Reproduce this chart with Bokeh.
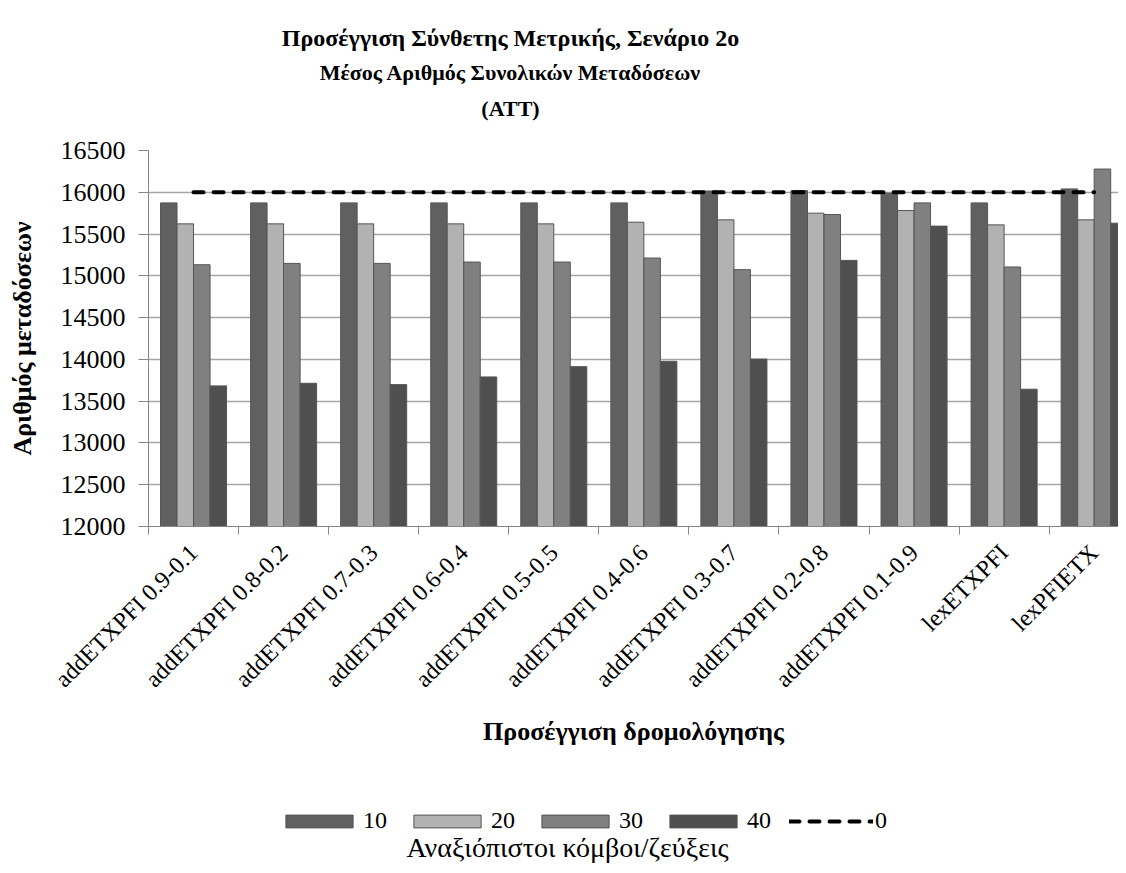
from bokeh.plotting import figure
from bokeh.layouts import column
from bokeh.models import (ColumnDataSource, Range1d, FixedTicker, Legend,
                          LegendItem, Label)
from bokeh.transform import dodge
from bokeh.embed import file_html
from bokeh.resources import INLINE
import math

categories = ["addETXPFI 0.9-0.1", "addETXPFI 0.8-0.2", "addETXPFI 0.7-0.3",
              "addETXPFI 0.6-0.4", "addETXPFI 0.5-0.5", "addETXPFI 0.4-0.6",
              "addETXPFI 0.3-0.7", "addETXPFI 0.2-0.8", "addETXPFI 0.1-0.9",
              "lexETXPFI", "lexPFIETX"]
s10 = [15873, 15873, 15873, 15873, 15873, 15873, 16015, 16020, 15988, 15873, 16040]
s20 = [15622, 15622, 15622, 15622, 15622, 15642, 15670, 15750, 15781, 15610, 15670]
s30 = [15133, 15149, 15149, 15165, 15165, 15213, 15074, 15734, 15873, 15106, 16278]
s40 = [13683, 13714, 13698, 13790, 13913, 13977, 14004, 15185, 15595, 13643, 15630]
s0 = [16000] * 11
series_names = ["10", "20", "30", "40", "0"]
y_ticks = [12000, 12500, 13000, 13500, 14000, 14500, 15000, 15500, 16000, 16500]

FONT = "Liberation Serif"
W = 1118
FRAME_W = 970
xpos = [i + 0.5 for i in range(len(categories))]
src = ColumnDataSource(dict(x=xpos, s10=s10, s20=s20, s30=s30, s40=s40, s0=s0))

# ---------------- title strip ----------------
H0 = 135
p0 = figure(width=W, height=H0, output_backend="svg", toolbar_location=None,
            x_range=Range1d(0, FRAME_W), y_range=Range1d(0, H0),
            x_axis_type=None, y_axis_type=None,
            min_border_left=0, min_border_right=0, min_border_top=0, min_border_bottom=0)
p0.outline_line_color = None
p0.xgrid.visible = False
p0.ygrid.visible = False

def tlabel(fig, text, x, y, size, bold):
    fig.add_layout(Label(x=x, y=y, text=text, text_font=FONT, text_font_size=size,
                         text_font_style="bold" if bold else "normal",
                         text_color="black", text_align="center",
                         text_baseline="middle"))

tlabel(p0, "Προσέγγιση Σύνθετης Μετρικής, Σενάριο 2ο", 362, H0 - 37, "24px", True)
tlabel(p0, "Μέσος Αριθμός Συνολικών Μεταδόσεων", 362, H0 - 72, "22px", True)
tlabel(p0, "(ATT)", 362, H0 - 108, "22px", True)

# ---------------- main chart ----------------
p = figure(frame_width=FRAME_W, frame_height=376, output_backend="svg", toolbar_location=None,
           x_range=Range1d(0, 10.77), y_range=Range1d(12000, 16500),
           min_border_left=148, min_border_right=0, min_border_top=15, min_border_bottom=225)
p.outline_line_color = None

bw = 0.1833
colors = ["#606060", "#b2b2b2", "#808080", "#4f4f4f"]
fields = ["s10", "s20", "s30", "s40"]
offsets = [-1.5 * bw, -0.5 * bw, 0.5 * bw, 1.5 * bw]
BAR_LINE = "#555555"
for f, c, o in zip(fields, colors, offsets):
    p.vbar(x=dodge("x", o), top=f, bottom=12000, width=bw, source=src,
           fill_color=c, line_color=BAR_LINE, line_width=1)
p.line(x="x", y="s0", source=src, line_color="black", line_width=4,
       line_dash="10 10", line_cap="round")

p.xaxis.ticker = FixedTicker(ticks=xpos, minor_ticks=list(range(0, 11)))
p.xaxis.major_label_overrides = {x: c for x, c in zip(xpos, categories)}
p.xaxis.major_label_orientation = math.pi / 4
p.xaxis.major_tick_out = 0
p.xaxis.major_tick_in = 0
p.xaxis.minor_tick_out = 8
p.xaxis.minor_tick_in = 0
p.xaxis.minor_tick_line_color = "#868686"
p.xaxis.axis_line_color = "#868686"
p.xaxis.major_label_standoff = 14
p.xaxis.major_label_text_font = FONT
p.xaxis.major_label_text_font_size = "24px"
p.xaxis.major_label_text_color = "black"
p.xaxis.axis_label = "Προσέγγιση δρομολόγησης"
p.xaxis.axis_label_text_font = FONT
p.xaxis.axis_label_text_font_size = "26px"
p.xaxis.axis_label_text_font_style = "bold"
p.xaxis.axis_label_text_color = "black"
p.xaxis.axis_label_standoff = 13

p.yaxis.ticker = FixedTicker(ticks=y_ticks)
p.yaxis.major_tick_out = 10
p.yaxis.major_tick_in = 0
p.yaxis.minor_tick_line_color = None
p.yaxis.major_tick_line_color = "#868686"
p.yaxis.axis_line_color = "#868686"
p.yaxis.major_label_standoff = 13
p.yaxis.major_label_text_font = FONT
p.yaxis.major_label_text_font_size = "26px"
p.yaxis.major_label_text_color = "black"
p.yaxis.axis_label = "Αριθμός μεταδόσεων"
p.yaxis.axis_label_text_font = FONT
p.yaxis.axis_label_text_font_size = "26px"
p.yaxis.axis_label_text_font_style = "bold"
p.yaxis.axis_label_text_color = "black"
p.yaxis.axis_label_standoff = 21

p.xgrid.grid_line_color = None
p.ygrid.grid_line_color = "#a6a6a6"
p.ygrid.grid_line_width = 1.5

# ---------------- legend strip ----------------
H2 = 865 - H0 - (15 + 376 + 225)
p2 = figure(width=W, height=H2, output_backend="svg", toolbar_location=None,
            x_range=Range1d(0, FRAME_W), y_range=Range1d(0, H2),
            x_axis_type=None, y_axis_type=None,
            min_border_left=0, min_border_right=0, min_border_top=0, min_border_bottom=0)
p2.outline_line_color = None
p2.xgrid.visible = False
p2.ygrid.visible = False

nan = float("nan")
leg_renderers = []
for c in colors:
    leg_renderers.append(p2.vbar(x=[nan], top=[nan], width=1, fill_color=c,
                                 line_color=BAR_LINE, line_width=1))
leg_renderers.append(p2.line(x=[nan], y=[nan], line_color="black", line_width=4,
                             line_dash="10 10", line_cap="round"))
items = [LegendItem(label=n, renderers=[r]) for n, r in zip(series_names, leg_renderers)]
legend = Legend(items=items, orientation="horizontal", location=(129, 31),
                glyph_width=84, glyph_height=16, label_standoff=2, spacing=18,
                padding=0, margin=0, border_line_alpha=0, background_fill_alpha=0,
                label_text_font=FONT, label_text_font_size="24px",
                label_text_color="black")
p2.add_layout(legend, "center")
tlabel(p2, "Αναξιόπιστοι κόμβοι/ζεύξεις", 419, 18, "28px", False)

open("out.html", "w").write(file_html(column(p0, p, p2, spacing=0), INLINE))
